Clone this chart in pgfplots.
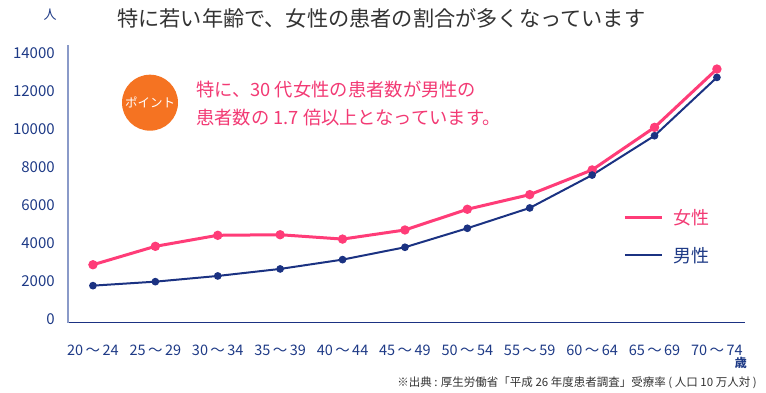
\documentclass[border=0pt]{standalone}
\usepackage{fontspec}
\setmainfont{Noto Sans CJK JP}
\usepackage{pgfplots}
\pgfplotsset{compat=1.18}
\definecolor{pinkc}{HTML}{FF3C78}
\definecolor{pinkt}{HTML}{F23A74}
\definecolor{navyc}{HTML}{1B3282}
\definecolor{navyt}{HTML}{1E3A86}
\definecolor{yaxc}{HTML}{8A9AC8}
\definecolor{orangec}{HTML}{F57322}
\definecolor{titlec}{HTML}{333333}
\begin{document}
\begin{tikzpicture}
\useasboundingbox (0pt,0pt) rectangle (766pt,-393pt);
\begin{axis}[
  at={(68pt,-322.7pt)}, anchor=south west,
  scale only axis, width=677pt, height=277.7pt,
  xmin=-0.4, xmax=10.45, ymin=-210, ymax=14405,
  axis x line=bottom, axis y line=left,
  x axis line style={-, color=navyc, line width=1.3pt},
  y axis line style={-, color=yaxc, line width=1.6pt},
  xtick={0,...,10},
  xticklabels={20\,～\,24,25\,～\,29,30\,～\,34,35\,～\,39,40\,～\,44,45\,～\,49,50\,～\,54,55\,～\,59,60\,～\,64,65\,～\,69,70\,～\,74},
  ytick={0,2000,...,14000},
  major tick style={draw=none},
  /pgf/number format/assume math mode=true,
  /pgf/number format/set thousands separator={},
  scaled y ticks=false,
  yticklabel style={anchor=east, inner sep=0pt, xshift=-11pt, text=navyt, font=\fontsize{15}{15}\selectfont},
  xticklabel style={anchor=center, inner sep=0pt, yshift=-25pt, text=navyt, font=\fontsize{14.5}{14.5}\selectfont},
  legend style={at={(rel axis cs:0.82,0.31)}, anchor=west, draw=none, fill=none, inner sep=0pt,
    row sep=21pt, nodes={inner sep=0pt, font=\fontsize{18}{18}\selectfont}},
  legend cell align=left,
  legend image code/.code={\draw[#1, mark=none] (0pt,0pt) -- (37pt,0pt); \path (47pt,0pt);},
  clip=false,
]
\addplot[color=pinkc, line width=3pt, mark=*, mark size=3.1pt, mark options={solid, fill=pinkc, draw=none}] coordinates {
(0,2840) (1,3810) (2,4390) (3,4420) (4,4190) (5,4670) (6,5760) (7,6530) (8,7830) (9,10070) (10,13140)
};
\addlegendentry{\textcolor{pinkt}{女性}}
\addplot[color=navyc, line width=2pt, mark=*, mark size=2.8pt, mark options={solid, fill=navyc, draw=none}] coordinates {
(0,1740) (1,1950) (2,2250) (3,2620) (4,3110) (5,3760) (6,4760) (7,5830) (8,7560) (9,9630) (10,12700)
};
\addlegendentry{\textcolor{navyt}{男性}}
\end{axis}
\node[anchor=center, text=navyt, font=\fontsize{13}{13}\selectfont, inner sep=0pt] at (50pt,-15pt) {人};
\node[anchor=west, text=titlec, font=\fontsize{21.2}{21.2}\selectfont, inner sep=0pt] at (117pt,-18pt) {特に若い年齢で、女性の患者の割合が多くなっています};
\fill[orangec] (150pt,-102.7pt) circle (28pt);
\node[text=white, font=\fontsize{12.5}{12.5}\selectfont, inner sep=0pt] at (150pt,-102.7pt) {ポイント};
\node[anchor=west, text=pinkt, font=\fontsize{18.3}{18.3}\selectfont, inner sep=0pt] at (196pt,-90pt) {特に、30 代女性の患者数が男性の};
\node[anchor=west, text=pinkt, font=\fontsize{18.3}{18.3}\selectfont, inner sep=0pt] at (196pt,-118pt) {患者数の 1.7 倍以上となっています。};
\node[anchor=east, text=navyt, font=\bfseries\fontsize{12}{12}\selectfont, inner sep=0pt] at (747pt,-363pt) {歳};
\node[anchor=east, text=titlec, font=\fontsize{11.5}{11.5}\selectfont, inner sep=0pt] at (757pt,-383pt) {※出典 : 厚生労働省「平成 26 年度患者調査」受療率 ( 人口 10 万人対 )};
\end{tikzpicture}
\end{document}
